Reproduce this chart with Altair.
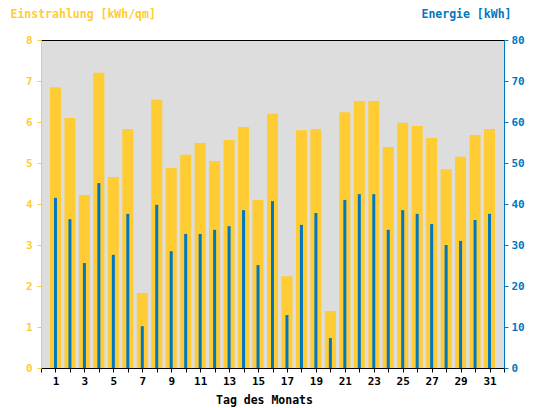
import altair as alt
import pandas as pd

days = list(range(1, 32))
einstrahlung = [6.85, 6.10, 4.22, 7.20, 4.66, 5.83, 1.83, 6.54, 4.88, 5.20,
                5.49, 5.05, 5.56, 5.88, 4.10, 6.20, 2.24, 5.80, 5.83, 1.39,
                6.24, 6.51, 6.51, 5.39, 5.98, 5.90, 5.61, 4.85, 5.15, 5.68, 5.83]
energie = [41.5, 36.3, 25.6, 45.1, 27.6, 37.6, 10.2, 39.8, 28.5, 32.7,
           32.7, 33.7, 34.6, 38.5, 25.1, 40.7, 12.9, 34.9, 37.8, 7.3,
           41.0, 42.4, 42.4, 33.7, 38.5, 37.6, 35.1, 30.0, 31.0, 36.1, 37.6]

df = pd.DataFrame({"Tag": days, "Einstrahlung": einstrahlung, "Energie": energie})

YELLOW = "#FFCC33"
BLUE = "#0077C0"
FONT = "DejaVu Sans Mono"

xenc = alt.X("Tag:Q",
             scale=alt.Scale(domain=[0, 32], nice=False, zero=False, padding=0),
             axis=alt.Axis(values=list(range(0, 33)),
                           labelExpr="datum.value % 2 == 1 ? datum.label : ''",
                           title="Tag des Monats", titleX=223, titleY=32,
                           titleBaseline="middle", titleAlign="center",
                           domainColor="black", tickColor="black",
                           labelColor="black", titleColor="black",
                           tickSize=4, labelPadding=3, grid=False,
                           labelFont=FONT, titleFont=FONT,
                           labelFontSize=11, titleFontSize=11.5,
                           labelFontWeight="bold", titleFontWeight="bold"))

yellow = alt.Chart(df).mark_bar(color=YELLOW, size=11).encode(
    x=xenc,
    y=alt.Y("Einstrahlung:Q",
            scale=alt.Scale(domain=[0, 8], nice=False),
            axis=alt.Axis(orient="left", values=list(range(0, 9)),
                          title="Einstrahlung [kWh/qm]", titleAngle=0,
                          titleX=-31, titleY=-32, titleAlign="left",
                          titleBaseline="top",
                          domainColor=YELLOW, tickColor=YELLOW,
                          labelColor=YELLOW, titleColor=YELLOW,
                          tickSize=4, labelPadding=5, grid=False,
                          labelFont=FONT, titleFont=FONT,
                          labelFontSize=11, titleFontSize=11.5,
                          labelFontWeight="bold", titleFontWeight="bold")),
)

blue = alt.Chart(df).mark_bar(color=BLUE, size=3).encode(
    x=xenc,
    y=alt.Y("Energie:Q",
            scale=alt.Scale(domain=[0, 80], nice=False),
            axis=alt.Axis(orient="right", values=list(range(0, 81, 10)),
                          title="Energie [kWh]", titleAngle=0,
                          titleX=7, titleY=-32, titleAlign="right",
                          titleBaseline="top",
                          domainColor=BLUE, tickColor=BLUE,
                          labelColor=BLUE, titleColor=BLUE,
                          tickSize=4, labelPadding=3, grid=False,
                          labelFont=FONT, titleFont=FONT,
                          labelFontSize=11, titleFontSize=11.5,
                          labelFontWeight="bold", titleFontWeight="bold")),
)

chart = alt.layer(yellow, blue).resolve_scale(y="independent").properties(
    width=463, height=328,
    background="white",
    autosize=alt.AutoSizeParams(type="none"),
    padding={"left": 33, "top": 32, "right": 32, "bottom": 40},
).configure_view(
    fill="#DDDDDD", stroke="black", strokeWidth=1
)

chart.save("out.html", embed_options={"renderer": "svg", "actions": False})
